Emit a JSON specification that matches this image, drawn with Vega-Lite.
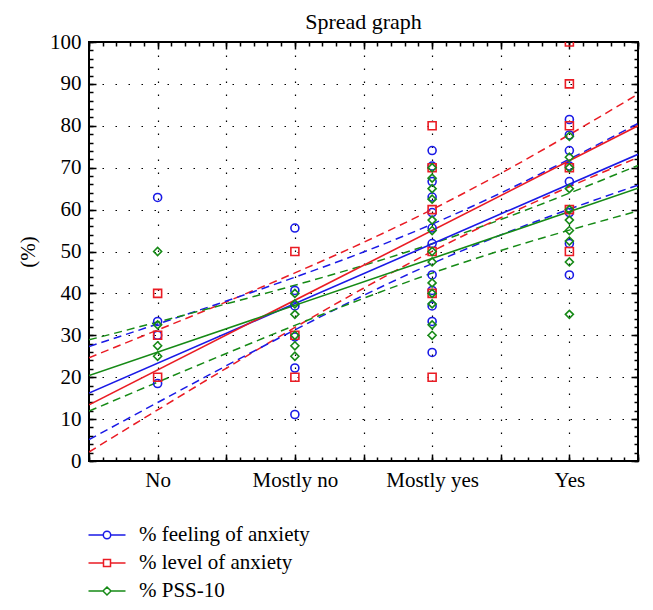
{
  "$schema": "https://vega.github.io/schema/vega-lite/v6.json",
  "width": 549,
  "height": 419,
  "autosize": {"type": "none"},
  "padding": {"left": 89, "top": 42, "right": 15, "bottom": 149},
  "background": "white",
  "title": {"text": "Spread graph", "font": "Liberation Serif", "fontSize": 22, "fontWeight": "normal", "color": "#000", "anchor": "middle", "offset": -3},
  "datasets": {
    "pts": [
      {"series": "% feeling of anxiety", "cat": 1, "value": 62.9},
      {"series": "% feeling of anxiety", "cat": 1, "value": 33.3},
      {"series": "% feeling of anxiety", "cat": 1, "value": 30.0},
      {"series": "% feeling of anxiety", "cat": 1, "value": 18.5},
      {"series": "% level of anxiety", "cat": 1, "value": 40},
      {"series": "% level of anxiety", "cat": 1, "value": 30},
      {"series": "% level of anxiety", "cat": 1, "value": 20},
      {"series": "% PSS-10", "cat": 1, "value": 50},
      {"series": "% PSS-10", "cat": 1, "value": 32.5},
      {"series": "% PSS-10", "cat": 1, "value": 27.5},
      {"series": "% PSS-10", "cat": 1, "value": 25},
      {"series": "% feeling of anxiety", "cat": 2, "value": 55.6},
      {"series": "% feeling of anxiety", "cat": 2, "value": 40.7},
      {"series": "% feeling of anxiety", "cat": 2, "value": 37.0},
      {"series": "% feeling of anxiety", "cat": 2, "value": 29.6},
      {"series": "% feeling of anxiety", "cat": 2, "value": 22.2},
      {"series": "% feeling of anxiety", "cat": 2, "value": 11.1},
      {"series": "% level of anxiety", "cat": 2, "value": 50},
      {"series": "% level of anxiety", "cat": 2, "value": 30},
      {"series": "% level of anxiety", "cat": 2, "value": 20},
      {"series": "% PSS-10", "cat": 2, "value": 40},
      {"series": "% PSS-10", "cat": 2, "value": 37.5},
      {"series": "% PSS-10", "cat": 2, "value": 35},
      {"series": "% PSS-10", "cat": 2, "value": 30},
      {"series": "% PSS-10", "cat": 2, "value": 27.5},
      {"series": "% PSS-10", "cat": 2, "value": 25},
      {"series": "% feeling of anxiety", "cat": 3, "value": 74.1},
      {"series": "% feeling of anxiety", "cat": 3, "value": 70.4},
      {"series": "% feeling of anxiety", "cat": 3, "value": 66.7},
      {"series": "% feeling of anxiety", "cat": 3, "value": 63.0},
      {"series": "% feeling of anxiety", "cat": 3, "value": 59.3},
      {"series": "% feeling of anxiety", "cat": 3, "value": 55.6},
      {"series": "% feeling of anxiety", "cat": 3, "value": 51.9},
      {"series": "% feeling of anxiety", "cat": 3, "value": 44.4},
      {"series": "% feeling of anxiety", "cat": 3, "value": 40.7},
      {"series": "% feeling of anxiety", "cat": 3, "value": 37.0},
      {"series": "% feeling of anxiety", "cat": 3, "value": 33.3},
      {"series": "% feeling of anxiety", "cat": 3, "value": 25.9},
      {"series": "% level of anxiety", "cat": 3, "value": 80},
      {"series": "% level of anxiety", "cat": 3, "value": 70},
      {"series": "% level of anxiety", "cat": 3, "value": 60},
      {"series": "% level of anxiety", "cat": 3, "value": 50},
      {"series": "% level of anxiety", "cat": 3, "value": 40},
      {"series": "% level of anxiety", "cat": 3, "value": 20},
      {"series": "% PSS-10", "cat": 3, "value": 70},
      {"series": "% PSS-10", "cat": 3, "value": 67.5},
      {"series": "% PSS-10", "cat": 3, "value": 65},
      {"series": "% PSS-10", "cat": 3, "value": 62.5},
      {"series": "% PSS-10", "cat": 3, "value": 57.5},
      {"series": "% PSS-10", "cat": 3, "value": 55},
      {"series": "% PSS-10", "cat": 3, "value": 50},
      {"series": "% PSS-10", "cat": 3, "value": 47.5},
      {"series": "% PSS-10", "cat": 3, "value": 42.5},
      {"series": "% PSS-10", "cat": 3, "value": 40},
      {"series": "% PSS-10", "cat": 3, "value": 37.5},
      {"series": "% PSS-10", "cat": 3, "value": 32.5},
      {"series": "% PSS-10", "cat": 3, "value": 30},
      {"series": "% feeling of anxiety", "cat": 4, "value": 81.5},
      {"series": "% feeling of anxiety", "cat": 4, "value": 77.8},
      {"series": "% feeling of anxiety", "cat": 4, "value": 74.1},
      {"series": "% feeling of anxiety", "cat": 4, "value": 70.4},
      {"series": "% feeling of anxiety", "cat": 4, "value": 66.7},
      {"series": "% feeling of anxiety", "cat": 4, "value": 59.3},
      {"series": "% feeling of anxiety", "cat": 4, "value": 51.9},
      {"series": "% feeling of anxiety", "cat": 4, "value": 44.4},
      {"series": "% level of anxiety", "cat": 4, "value": 100},
      {"series": "% level of anxiety", "cat": 4, "value": 90},
      {"series": "% level of anxiety", "cat": 4, "value": 80},
      {"series": "% level of anxiety", "cat": 4, "value": 70},
      {"series": "% level of anxiety", "cat": 4, "value": 60},
      {"series": "% level of anxiety", "cat": 4, "value": 50},
      {"series": "% PSS-10", "cat": 4, "value": 77.5},
      {"series": "% PSS-10", "cat": 4, "value": 72.5},
      {"series": "% PSS-10", "cat": 4, "value": 70},
      {"series": "% PSS-10", "cat": 4, "value": 65},
      {"series": "% PSS-10", "cat": 4, "value": 60},
      {"series": "% PSS-10", "cat": 4, "value": 57.5},
      {"series": "% PSS-10", "cat": 4, "value": 55},
      {"series": "% PSS-10", "cat": 4, "value": 52.5},
      {"series": "% PSS-10", "cat": 4, "value": 47.5},
      {"series": "% PSS-10", "cat": 4, "value": 35}
    ],
    "lines": [
      {"series": "% feeling of anxiety", "part": "fit", "x": 0.5, "v": 16.2},
      {"series": "% feeling of anxiety", "part": "fit", "x": 4.5, "v": 73.2},
      {"series": "% level of anxiety", "part": "fit", "x": 0.5, "v": 13.4},
      {"series": "% level of anxiety", "part": "fit", "x": 4.5, "v": 80.0},
      {"series": "% PSS-10", "part": "fit", "x": 0.5, "v": 20.4},
      {"series": "% PSS-10", "part": "fit", "x": 4.5, "v": 65.1},

      {"series": "% level of anxiety", "part": "upper", "x": 0.5, "v": 24.65},
      {"series": "% level of anxiety", "part": "upper", "x": 1.0, "v": 31.26},
      {"series": "% level of anxiety", "part": "upper", "x": 1.5, "v": 37.97},
      {"series": "% level of anxiety", "part": "upper", "x": 2.0, "v": 44.89},
      {"series": "% level of anxiety", "part": "upper", "x": 2.5, "v": 52.17},
      {"series": "% level of anxiety", "part": "upper", "x": 3.0, "v": 60.03},
      {"series": "% level of anxiety", "part": "upper", "x": 3.5, "v": 68.64},
      {"series": "% level of anxiety", "part": "upper", "x": 4.0, "v": 77.9},
      {"series": "% level of anxiety", "part": "upper", "x": 4.5, "v": 87.56},
      {"series": "% level of anxiety", "part": "lower", "x": 0.5, "v": 2.15},
      {"series": "% level of anxiety", "part": "lower", "x": 1.0, "v": 12.2},
      {"series": "% level of anxiety", "part": "lower", "x": 1.5, "v": 22.13},
      {"series": "% level of anxiety", "part": "lower", "x": 2.0, "v": 31.87},
      {"series": "% level of anxiety", "part": "lower", "x": 2.5, "v": 41.23},
      {"series": "% level of anxiety", "part": "lower", "x": 3.0, "v": 50.03},
      {"series": "% level of anxiety", "part": "lower", "x": 3.5, "v": 58.06},
      {"series": "% level of anxiety", "part": "lower", "x": 4.0, "v": 65.46},
      {"series": "% level of anxiety", "part": "lower", "x": 4.5, "v": 72.44},

      {"series": "% feeling of anxiety", "part": "upper", "x": 0.5, "v": 27.31},
      {"series": "% feeling of anxiety", "part": "upper", "x": 1.0, "v": 32.7},
      {"series": "% feeling of anxiety", "part": "upper", "x": 1.5, "v": 38.17},
      {"series": "% feeling of anxiety", "part": "upper", "x": 2.0, "v": 43.86},
      {"series": "% feeling of anxiety", "part": "upper", "x": 2.5, "v": 49.88},
      {"series": "% feeling of anxiety", "part": "upper", "x": 3.0, "v": 56.53},
      {"series": "% feeling of anxiety", "part": "upper", "x": 3.5, "v": 63.95},
      {"series": "% feeling of anxiety", "part": "upper", "x": 4.0, "v": 72.05},
      {"series": "% feeling of anxiety", "part": "upper", "x": 4.5, "v": 80.56},
      {"series": "% feeling of anxiety", "part": "lower", "x": 0.5, "v": 5.09},
      {"series": "% feeling of anxiety", "part": "lower", "x": 1.0, "v": 13.96},
      {"series": "% feeling of anxiety", "part": "lower", "x": 1.5, "v": 22.73},
      {"series": "% feeling of anxiety", "part": "lower", "x": 2.0, "v": 31.3},
      {"series": "% feeling of anxiety", "part": "lower", "x": 2.5, "v": 39.52},
      {"series": "% feeling of anxiety", "part": "lower", "x": 3.0, "v": 47.13},
      {"series": "% feeling of anxiety", "part": "lower", "x": 3.5, "v": 53.95},
      {"series": "% feeling of anxiety", "part": "lower", "x": 4.0, "v": 60.11},
      {"series": "% feeling of anxiety", "part": "lower", "x": 4.5, "v": 65.84},

      {"series": "% PSS-10", "part": "upper", "x": 0.5, "v": 28.91},
      {"series": "% PSS-10", "part": "upper", "x": 1.0, "v": 33.16},
      {"series": "% PSS-10", "part": "upper", "x": 1.5, "v": 37.5},
      {"series": "% PSS-10", "part": "upper", "x": 2.0, "v": 41.95},
      {"series": "% PSS-10", "part": "upper", "x": 2.5, "v": 46.68},
      {"series": "% PSS-10", "part": "upper", "x": 3.0, "v": 51.84},
      {"series": "% PSS-10", "part": "upper", "x": 3.5, "v": 57.62},
      {"series": "% PSS-10", "part": "upper", "x": 4.0, "v": 63.92},
      {"series": "% PSS-10", "part": "upper", "x": 4.5, "v": 70.54},
      {"series": "% PSS-10", "part": "lower", "x": 0.5, "v": 11.89},
      {"series": "% PSS-10", "part": "lower", "x": 1.0, "v": 18.82},
      {"series": "% PSS-10", "part": "lower", "x": 1.5, "v": 25.66},
      {"series": "% PSS-10", "part": "lower", "x": 2.0, "v": 32.37},
      {"series": "% PSS-10", "part": "lower", "x": 2.5, "v": 38.82},
      {"series": "% PSS-10", "part": "lower", "x": 3.0, "v": 44.84},
      {"series": "% PSS-10", "part": "lower", "x": 3.5, "v": 50.24},
      {"series": "% PSS-10", "part": "lower", "x": 4.0, "v": 55.1},
      {"series": "% PSS-10", "part": "lower", "x": 4.5, "v": 59.66}
    ]
  },
  "resolve": {"scale": {"color": "independent", "shape": "independent"}, "axis": {"x": "independent", "y": "independent"}},
  "layer": [
    {
      "data": {"name": "lines"},
      "transform": [{"filter": "datum.part == 'upper'"}],
      "mark": {"type": "line", "strokeDash": [8, 5], "strokeWidth": 1.5, "interpolate": "monotone", "clip": true},
      "encoding": {
        "x": {"field": "x", "type": "quantitative", "scale": {"domain": [0.5, 4.5], "nice": false, "zero": false},
              "axis": {"orient": "bottom", "grid": true, "gridDash": [1.5, 11.5], "gridColor": "#000", "gridWidth": 1.2, "values": [1, 1.5, 2, 2.5, 3, 3.5, 4], "ticks": false, "labels": false, "domain": false, "title": null}},
        "y": {"field": "v", "type": "quantitative", "scale": {"domain": [0, 100], "nice": false},
              "axis": {"orient": "left", "grid": true, "gridDash": [1.5, 11.5], "gridColor": "#000", "gridWidth": 1.2, "values": [10, 20, 30, 40, 50, 60, 70, 80, 90], "ticks": false, "labels": false, "domain": false, "title": null}},
        "color": {"field": "series", "type": "nominal", "scale": {"domain": ["% feeling of anxiety", "% level of anxiety", "% PSS-10"], "range": ["#1a1ae6", "#ea1c24", "#168a16"]}, "legend": null},
        "detail": {"field": "part"}
      }
    },
    {
      "data": {"name": "lines"},
      "transform": [{"filter": "datum.part == 'lower'"}],
      "mark": {"type": "line", "strokeDash": [8, 5], "strokeWidth": 1.5, "interpolate": "monotone", "clip": true},
      "encoding": {
        "x": {"field": "x", "type": "quantitative",
              "axis": {"orient": "bottom", "values": [0.5,0.6,0.7,0.8,0.9,1,1.1,1.2,1.3,1.4,1.5,1.6,1.7,1.8,1.9,2,2.1,2.2,2.3,2.4,2.5,2.6,2.7,2.8,2.9,3,3.1,3.2,3.3,3.4,3.5,3.6,3.7,3.8,3.9,4,4.1,4.2,4.3,4.4,4.5], "tickSize": -4, "tickWidth": 1.5, "tickColor": "#000", "labels": false, "domain": false, "grid": false, "title": null}},
        "y": {"field": "v", "type": "quantitative",
              "axis": {"orient": "left", "values": [0,2,4,6,8,10,12,14,16,18,20,22,24,26,28,30,32,34,36,38,40,42,44,46,48,50,52,54,56,58,60,62,64,66,68,70,72,74,76,78,80,82,84,86,88,90,92,94,96,98,100], "tickSize": -4, "tickWidth": 1.5, "tickColor": "#000", "labels": false, "domain": false, "grid": false, "title": null}},
        "color": {"field": "series", "type": "nominal", "scale": {"domain": ["% feeling of anxiety", "% level of anxiety", "% PSS-10"], "range": ["#1a1ae6", "#ea1c24", "#168a16"]}, "legend": null},
        "detail": {"field": "part"}
      }
    },
    {
      "data": {"name": "lines"},
      "transform": [{"filter": "datum.part == 'fit'"}],
      "mark": {"type": "line", "strokeWidth": 1.6, "clip": true},
      "encoding": {
        "x": {"field": "x", "type": "quantitative",
              "axis": {"orient": "top", "values": [0.5,0.6,0.7,0.8,0.9,1,1.1,1.2,1.3,1.4,1.5,1.6,1.7,1.8,1.9,2,2.1,2.2,2.3,2.4,2.5,2.6,2.7,2.8,2.9,3,3.1,3.2,3.3,3.4,3.5,3.6,3.7,3.8,3.9,4,4.1,4.2,4.3,4.4,4.5], "tickSize": -4, "tickWidth": 1.5, "tickColor": "#000", "labels": false, "domain": false, "grid": false, "title": null}},
        "y": {"field": "v", "type": "quantitative",
              "axis": {"orient": "right", "values": [0,2,4,6,8,10,12,14,16,18,20,22,24,26,28,30,32,34,36,38,40,42,44,46,48,50,52,54,56,58,60,62,64,66,68,70,72,74,76,78,80,82,84,86,88,90,92,94,96,98,100], "tickSize": -4, "tickWidth": 1.5, "tickColor": "#000", "labels": false, "domain": false, "grid": false, "title": null}},
        "color": {"field": "series", "type": "nominal", "scale": {"domain": ["% feeling of anxiety", "% level of anxiety", "% PSS-10"], "range": ["#1a1ae6", "#ea1c24", "#168a16"]}, "legend": null}
      }
    },
    {
      "data": {"name": "pts"},
      "mark": {"type": "point", "filled": false, "strokeWidth": 1.6, "size": 64, "opacity": 1, "clip": true},
      "encoding": {
        "x": {"field": "cat", "type": "quantitative",
              "axis": {"orient": "bottom", "values": [0.5, 1, 1.5, 2, 2.5, 3, 3.5, 4, 4.5], "tickSize": -7, "tickWidth": 1.5, "tickColor": "#000", "domain": false, "grid": false, "title": null,
                       "labelExpr": "datum.value == 1 ? 'No' : datum.value == 2 ? 'Mostly no' : datum.value == 3 ? 'Mostly yes' : datum.value == 4 ? 'Yes' : ''",
                       "labelFont": "Liberation Serif", "labelFontSize": 21, "labelColor": "#000", "labelPadding": 15, "labelOverlap": false, "labelFlush": false, "labelBound": false}},
        "y": {"field": "value", "type": "quantitative",
              "axis": {"orient": "left", "values": [0, 10, 20, 30, 40, 50, 60, 70, 80, 90, 100], "tickSize": -7, "tickWidth": 1.5, "tickColor": "#000", "domain": false, "grid": false,
                       "title": "(%)", "titleFont": "Liberation Serif", "titleFontSize": 21, "titleFontWeight": "normal", "titleColor": "#000", "titlePadding": 11,
                       "labelFont": "Liberation Serif", "labelFontSize": 21, "labelColor": "#000", "labelPadding": 15, "labelOverlap": false, "labelFlush": false, "labelBound": false}},
        "color": {"field": "series", "type": "nominal", "scale": {"domain": ["% feeling of anxiety", "% level of anxiety", "% PSS-10"], "range": ["#1a1ae6", "#ea1c24", "#168a16"]}, "legend": null},
        "shape": {"field": "series", "type": "nominal", "scale": {"domain": ["% feeling of anxiety", "% level of anxiety", "% PSS-10"], "range": ["circle", "square", "diamond"]}, "legend": null}
      }
    },
    {
      "data": {"name": "pts"},
      "mark": {"type": "point", "filled": false, "strokeWidth": 1.5, "opacity": 0, "clip": true},
      "encoding": {
        "x": {"field": "cat", "type": "quantitative",
              "axis": {"orient": "top", "values": [0.5, 1, 1.5, 2, 2.5, 3, 3.5, 4, 4.5], "tickSize": -7, "tickWidth": 1.5, "tickColor": "#000", "labels": false, "domain": false, "grid": false, "title": null}},
        "y": {"field": "value", "type": "quantitative",
              "axis": {"orient": "right", "values": [0, 10, 20, 30, 40, 50, 60, 70, 80, 90, 100], "tickSize": -7, "tickWidth": 1.5, "tickColor": "#000", "labels": false, "domain": false, "grid": false, "title": null}},
        "color": {"field": "series", "type": "nominal", "scale": {"domain": ["% feeling of anxiety", "% level of anxiety", "% PSS-10"], "range": ["#1a1ae6", "#ea1c24", "#168a16"]}, "legend": {"title": null}},
        "shape": {"field": "series", "type": "nominal", "scale": {"domain": ["% feeling of anxiety", "% level of anxiety", "% PSS-10"], "range": [
          "M-1.85,0H-0.37M0.37,0H1.85M0.37,0A0.37,0.37,0,1,1,-0.37,0A0.37,0.37,0,1,1,0.37,0",
          "M-1.85,0H-0.35M0.35,0H1.85M-0.35,-0.35H0.35V0.35H-0.35Z",
          "M-1.85,0H-0.4M0.4,0H1.85M0,-0.4L0.4,0L0,0.4L-0.4,0Z"]}, "legend": {"title": null}}
      }
    }
  ],
  "config": {
    "view": {"stroke": "#000", "strokeWidth": 2},
    "legend": {"orient": "none", "legendX": 7, "legendY": 482, "labelFont": "Liberation Serif", "labelFontSize": 21, "labelColor": "#000", "labelLimit": 0, "symbolSize": 400, "symbolStrokeWidth": 1.5, "labelOffset": 21, "rowPadding": 7, "symbolOpacity": 1}
  }
}
